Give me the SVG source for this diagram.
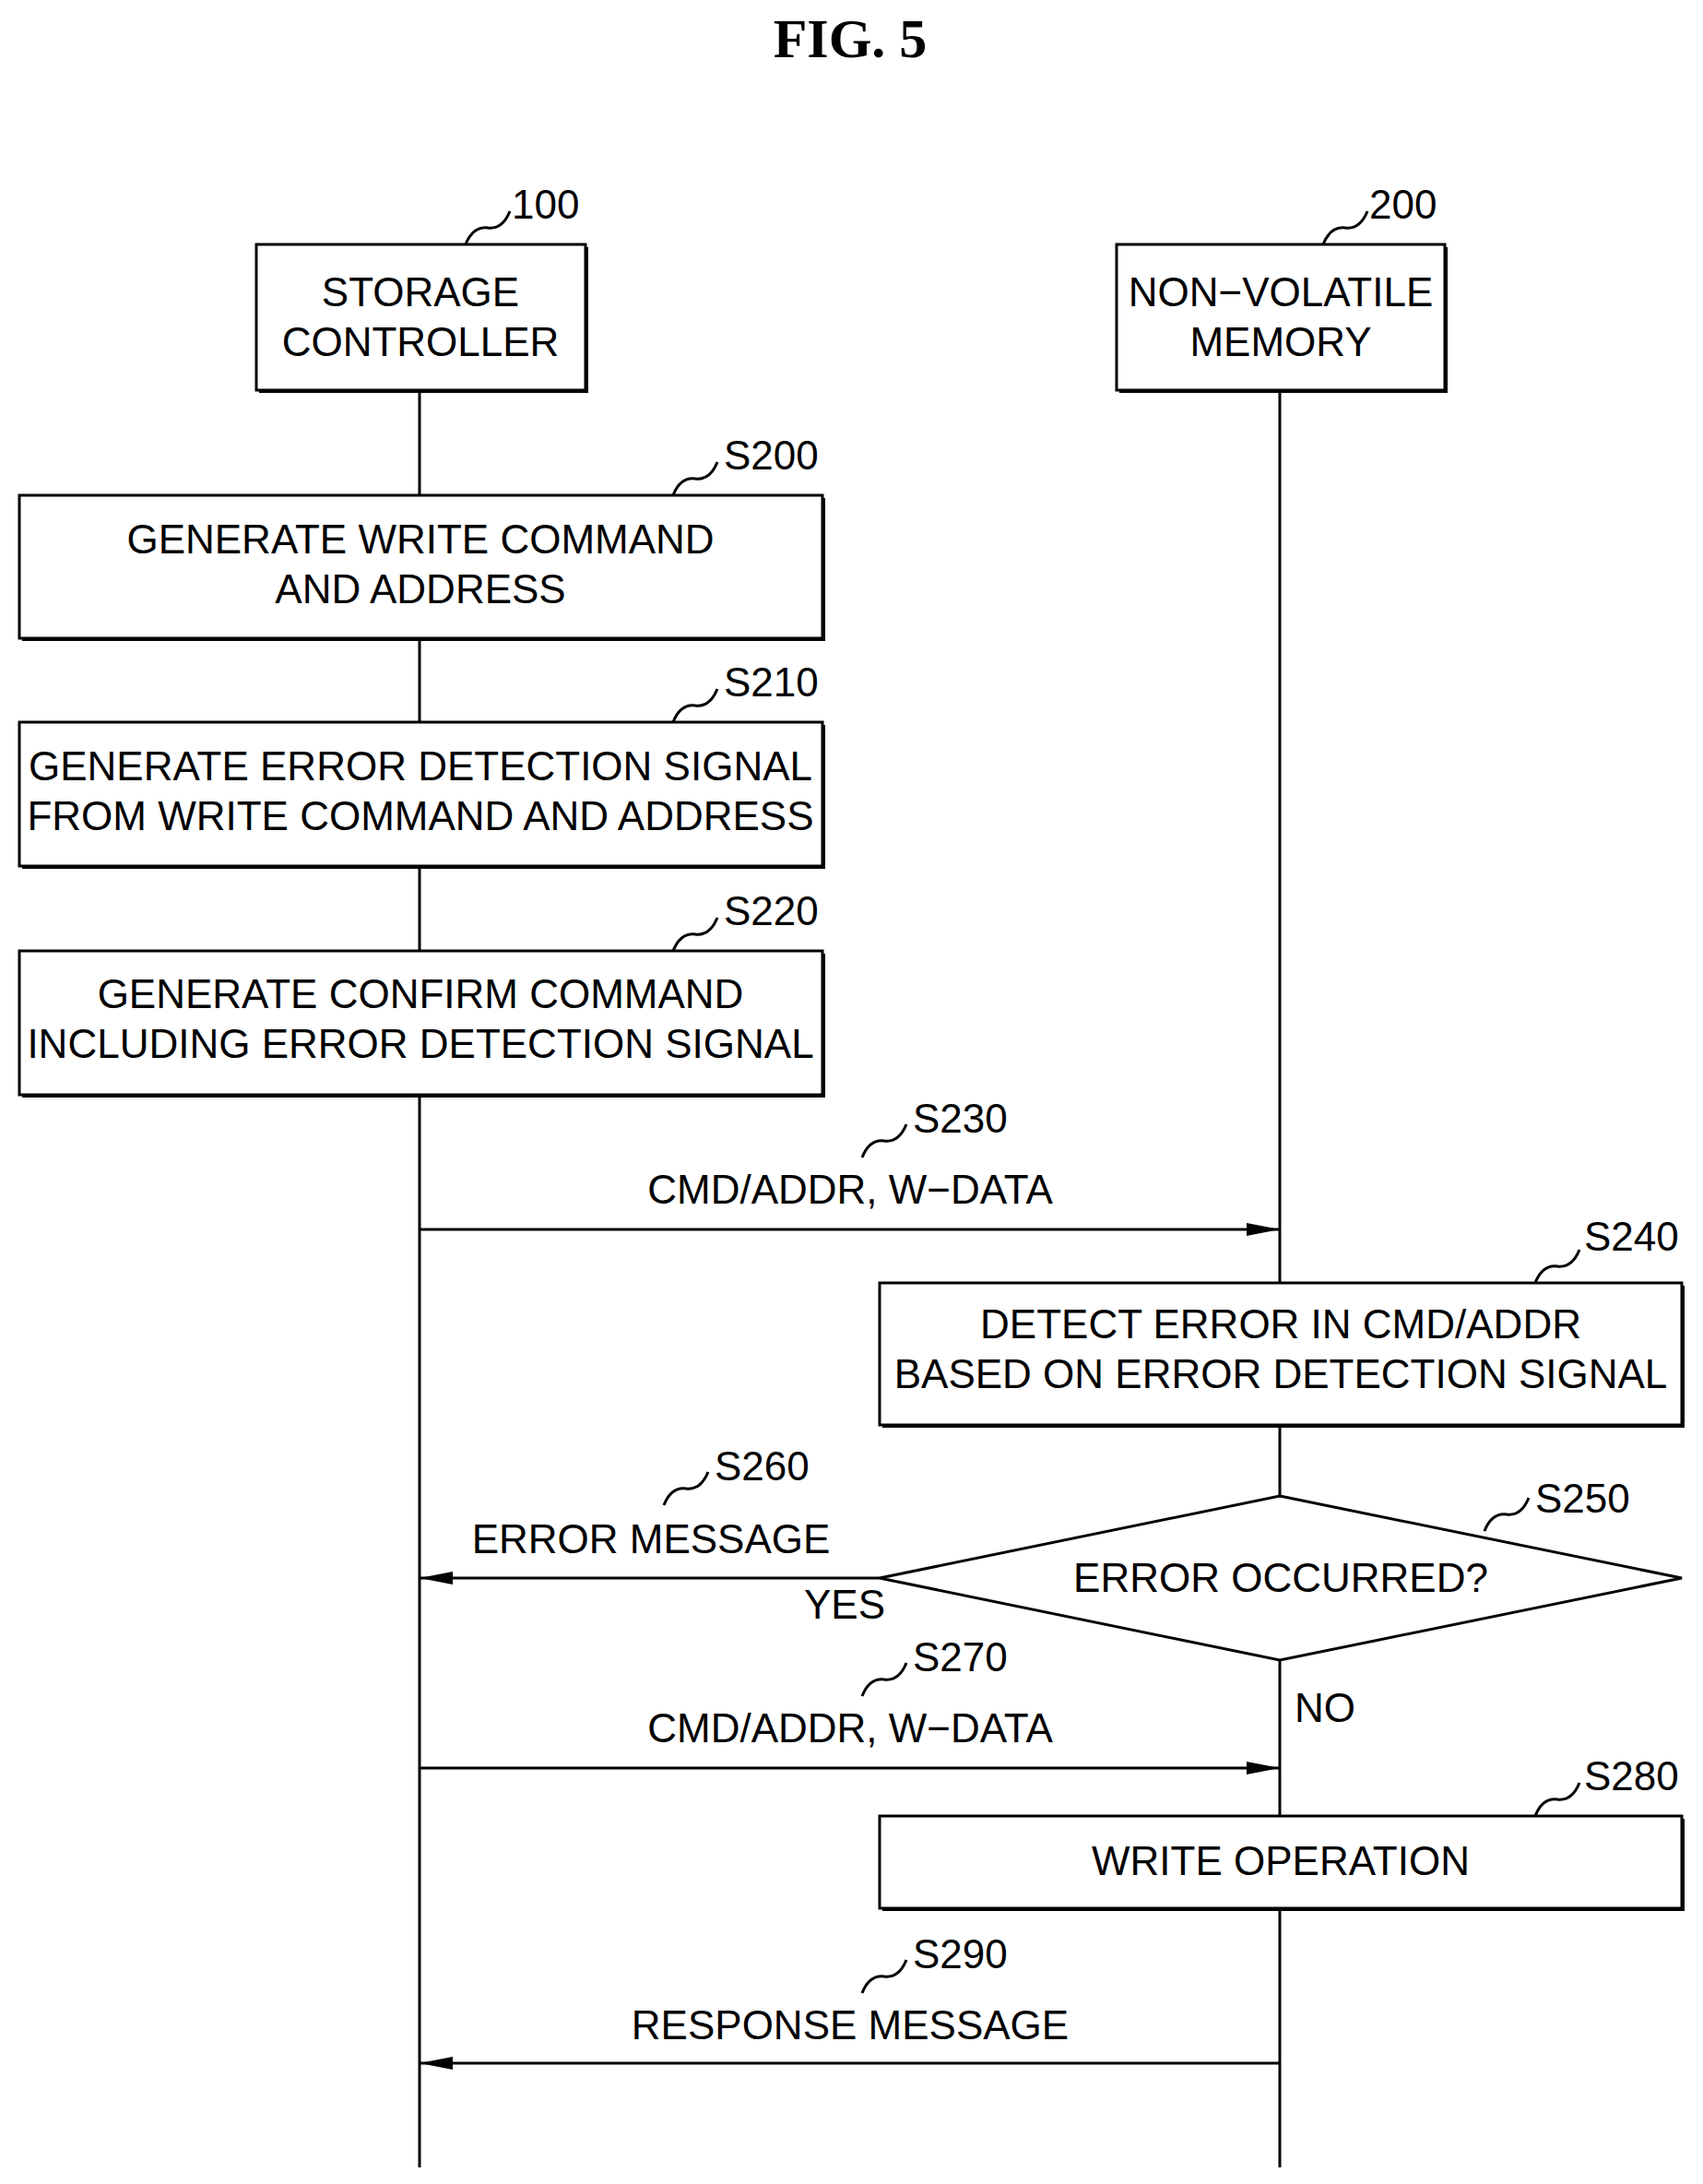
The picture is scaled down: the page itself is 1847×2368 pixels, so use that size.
<svg xmlns="http://www.w3.org/2000/svg" width="1847" height="2368" viewBox="0 0 1847 2368">
<defs>
<style>
text{font-family:"Liberation Sans",Arial,sans-serif;font-size:44px;fill:#000;text-anchor:middle}
.lbl{text-anchor:start}
.box{fill:#fff;stroke:#000;stroke-width:3}
.sh{fill:none;stroke:#000;stroke-width:6}
.ln{fill:none;stroke:#000;stroke-width:3}
</style>
<marker id="ah" viewBox="0 0 10 10" refX="10" refY="5" markerWidth="12" markerHeight="8" markerUnits="userSpaceOnUse" preserveAspectRatio="none"><path d="M0,0L10,5L0,10z" fill="#000"/></marker>
<marker id="ah2" viewBox="0 0 10 10" refX="10" refY="5" markerWidth="36" markerHeight="14" orient="auto" markerUnits="userSpaceOnUse" preserveAspectRatio="none"><path d="M0,0L10,5L0,10z" fill="#000"/></marker>
</defs>
<rect width="1847" height="2368" fill="#fff"/>
<text x="922" y="62" style="font-family:'Liberation Serif',serif;font-weight:bold;font-size:60px">FIG.  5</text>
<g id="connectors">
<line class="ln" x1="455" y1="423" x2="455" y2="2350"/>
<line class="ln" x1="1388" y1="423" x2="1388" y2="2350"/>
<line class="ln" x1="455" y1="1333" x2="1388" y2="1333" marker-end="url(#ah2)"/>
<line class="ln" x1="954" y1="1711" x2="455" y2="1711" marker-end="url(#ah2)"/>
<line class="ln" x1="455" y1="1917" x2="1388" y2="1917" marker-end="url(#ah2)"/>
<line class="ln" x1="1388" y1="2237" x2="455" y2="2237" marker-end="url(#ah2)"/>
<text x="922" y="1305">CMD/ADDR, W−DATA</text>
<text x="706" y="1684">ERROR MESSAGE</text>
<text x="916" y="1755">YES</text>
<text x="1437" y="1867">NO</text>
<text x="922" y="1889">CMD/ADDR, W−DATA</text>
<text x="922" y="2211">RESPONSE MESSAGE</text>
<path class="ln" d="M935,1255 q8,-20 24,-18 q16,2 24,-18"/><text class="lbl" x="990" y="1228">S230</text>
<path class="ln" d="M720,1632 q8,-20 24,-18 q16,2 24,-18"/><text class="lbl" x="775" y="1605">S260</text>
<path class="ln" d="M935,1839 q8,-20 24,-18 q16,2 24,-18"/><text class="lbl" x="990" y="1812">S270</text>
<path class="ln" d="M935,2161 q8,-20 24,-18 q16,2 24,-18"/><text class="lbl" x="990" y="2134">S290</text>
</g>
<g id="n100">
<path class="sh" d="M635,268V423H281"/><rect class="box" x="278" y="265" width="357" height="158"/>
<text x="456" y="332">STORAGE</text><text x="456" y="386">CONTROLLER</text>
<path class="ln" d="M505,265 q8,-20 24,-18 q16,2 24,-18"/><text class="lbl" x="555" y="237">100</text>
</g>
<g id="n200">
<path class="sh" d="M1567,268V423H1214"/><rect class="box" x="1211" y="265" width="356" height="158"/>
<text x="1389" y="332">NON−VOLATILE</text><text x="1389" y="386">MEMORY</text>
<path class="ln" d="M1435,265 q8,-20 24,-18 q16,2 24,-18"/><text class="lbl" x="1485" y="237">200</text>
</g>
<g id="s200">
<path class="sh" d="M892,540V692H24"/><rect class="box" x="21" y="537" width="871" height="155"/>
<text x="456" y="600">GENERATE WRITE COMMAND</text><text x="456" y="654">AND ADDRESS</text>
<path class="ln" d="M730,537 q8,-20 24,-18 q16,2 24,-18"/><text class="lbl" x="785" y="509">S200</text>
</g>
<g id="s210">
<path class="sh" d="M892,786V939H24"/><rect class="box" x="21" y="783" width="871" height="156"/>
<text x="456" y="846">GENERATE ERROR DETECTION SIGNAL</text><text x="456" y="900">FROM WRITE COMMAND AND ADDRESS</text>
<path class="ln" d="M730,783 q8,-20 24,-18 q16,2 24,-18"/><text class="lbl" x="785" y="755">S210</text>
</g>
<g id="s220">
<path class="sh" d="M892,1034V1187H24"/><rect class="box" x="21" y="1031" width="871" height="156"/>
<text x="456" y="1093">GENERATE CONFIRM COMMAND</text><text x="456" y="1147">INCLUDING ERROR DETECTION SIGNAL</text>
<path class="ln" d="M730,1031 q8,-20 24,-18 q16,2 24,-18"/><text class="lbl" x="785" y="1003">S220</text>
</g>
<g id="s240">
<path class="sh" d="M1824,1394V1545H957"/><rect class="box" x="954" y="1391" width="870" height="154"/>
<text x="1389" y="1451">DETECT ERROR IN CMD/ADDR</text><text x="1389" y="1505">BASED ON ERROR DETECTION SIGNAL</text>
<path class="ln" d="M1665,1391 q8,-20 24,-18 q16,2 24,-18"/><text class="lbl" x="1718" y="1356">S240</text>
</g>
<g id="s250">
<path class="box" d="M1388,1622L1824,1711L1388,1800L954,1711Z"/>
<text x="1389" y="1726">ERROR OCCURRED?</text>
<path class="ln" d="M1610,1660 q8,-20 24,-18 q16,2 24,-18"/><text class="lbl" x="1665" y="1640">S250</text>
</g>
<g id="s280">
<path class="sh" d="M1824,1972V2069H957"/><rect class="box" x="954" y="1969" width="870" height="100"/>
<text x="1389" y="2033">WRITE OPERATION</text>
<path class="ln" d="M1665,1969 q8,-20 24,-18 q16,2 24,-18"/><text class="lbl" x="1718" y="1941">S280</text>
</g>
</svg>
